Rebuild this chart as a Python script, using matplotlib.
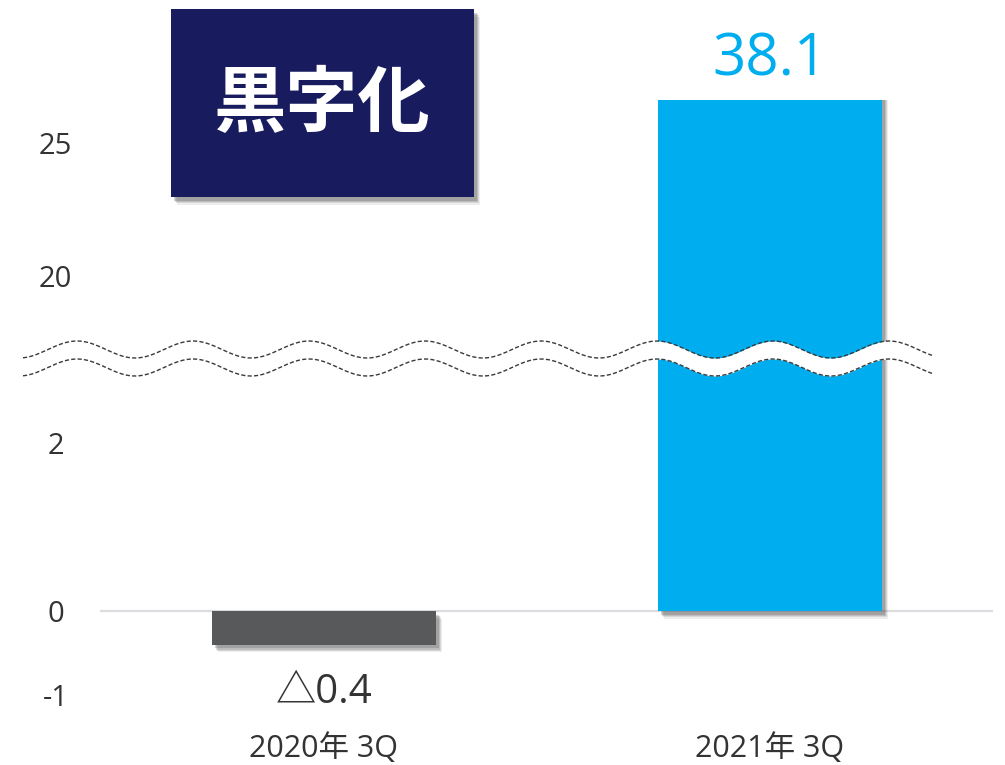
import numpy as np
import matplotlib
matplotlib.use("Agg")
import matplotlib.pyplot as plt
from matplotlib import patheffects as pe
from matplotlib.patches import Rectangle

# data
categories = ["2020年 3Q", "2021年 3Q"]
values = [-0.4, 38.1]
value_labels = ["△0.4", "38.1"]
lower_ticks = [-1, 0, 2]
upper_ticks = [20, 25]
badge_text = "黒字化"

BAR_COLORS = ["#58595b", "#00aeef"]
NAVY = "#181c5e"
TEXT = "#333333"

W, H = 1005, 765
plt.rcParams["font.family"] = ["Open Sans", "Noto Sans CJK JP", "DejaVu Sans"]


def shadow():
    # a few stacked faint shadows to get a soft edge
    fx = []
    for off, a in [(5.5, 0.10), (4.6, 0.15), (3.7, 0.20), (2.8, 0.25)]:
        fx.append(pe.SimplePatchShadow(offset=(off * 0.8, -off), shadow_rgbFace="#555555",
                                       alpha=a))
    fx.append(pe.Normal())
    return fx


def main():
    fig = plt.figure(figsize=(W / 100, H / 100), dpi=100)
    fig.patch.set_facecolor("white")

    left, right = 100 / W, 993 / W
    top_px, brk_px, bot_px = 100, 359, 711
    ax_top = fig.add_axes([left, 1 - brk_px / H, right - left, (brk_px - top_px) / H])
    ax_low = fig.add_axes([left, 1 - bot_px / H, right - left, (bot_px - brk_px) / H],
                          sharex=ax_top)

    x = np.arange(len(categories))
    for ax in (ax_top, ax_low):
        bars = ax.bar(x, values, width=0.502, color=BAR_COLORS, zorder=2)
        for b in bars:
            b.set_path_effects(shadow())
        for s in ax.spines.values():
            s.set_visible(False)
        ax.set_facecolor("none")

    # scales: lower part ~84 px/unit, upper part ~26.6 px/unit
    ax_low.set_ylim(-100 / 84, (611 - brk_px) / 84)
    ax_top.set_ylim(25 - (brk_px - 143) / 26.6, 25 + (143 - top_px) / 26.6)
    ax_low.set_xlim(-0.502, 1.5)

    ax_low.axhline(0, color="#dcdce0", lw=1.6, zorder=1)

    ax_low.set_yticks(lower_ticks)
    ax_low.set_yticklabels([str(t) for t in lower_ticks])
    ax_top.set_yticks(upper_ticks)
    ax_top.set_yticklabels([str(t) for t in upper_ticks])
    for ax in (ax_top, ax_low):
        ax.tick_params(axis="y", length=0, pad=32, labelsize=21, labelcolor=TEXT)
        for t in ax.get_yticklabels():
            t.set_ha("center")

    ax_top.tick_params(axis="x", length=0, labelbottom=False)
    ax_low.set_xticks(x)
    ax_low.set_xticklabels(categories)
    ax_low.tick_params(axis="x", length=0, pad=16, labelsize=22, labelcolor=TEXT)

    # value labels
    ax_top.annotate(value_labels[1], xy=(x[1], 1), xycoords=("data", "axes fraction"),
                    xytext=(0, 18), textcoords="offset points", ha="center",
                    va="baseline", fontsize=42, color=BAR_COLORS[1], annotation_clip=False)
    ax_low.annotate(value_labels[0], xy=(x[0], values[0]), xytext=(0, -42),
                    textcoords="offset points", ha="center", va="baseline",
                    fontsize=29, color=TEXT, annotation_clip=False)

    # overlay in pixel space for the break mark and the badge
    ov = fig.add_axes([0, 0, 1, 1], zorder=5)
    ov.set_xlim(0, W)
    ov.set_ylim(H, 0)
    ov.axis("off")
    ov.patch.set_visible(False)

    xs = np.linspace(23, 932, 800)
    y_up = 349.5 - 8.5 * np.cos(2 * np.pi * (xs - 77) / 116)
    y_dn = y_up + 18
    ov.fill_between(xs, y_up, y_dn, color="white", lw=0)
    for yy in (y_up, y_dn):
        ov.plot(xs, yy, color="#3a3a3a", lw=1.0, dashes=(3, 1.6))

    box = Rectangle((171, 9), 303, 188, facecolor=NAVY, edgecolor="none")
    box.set_path_effects(shadow())
    ov.add_patch(box)
    ov.text(322, 105, badge_text, ha="center", va="center", fontsize=52,
            fontweight="bold", color="white", family=["Noto Sans CJK JP", "DejaVu Sans"])

    fig.savefig("out.png", dpi=100, facecolor="white")
    plt.close(fig)


if __name__ == "__main__":
    main()
